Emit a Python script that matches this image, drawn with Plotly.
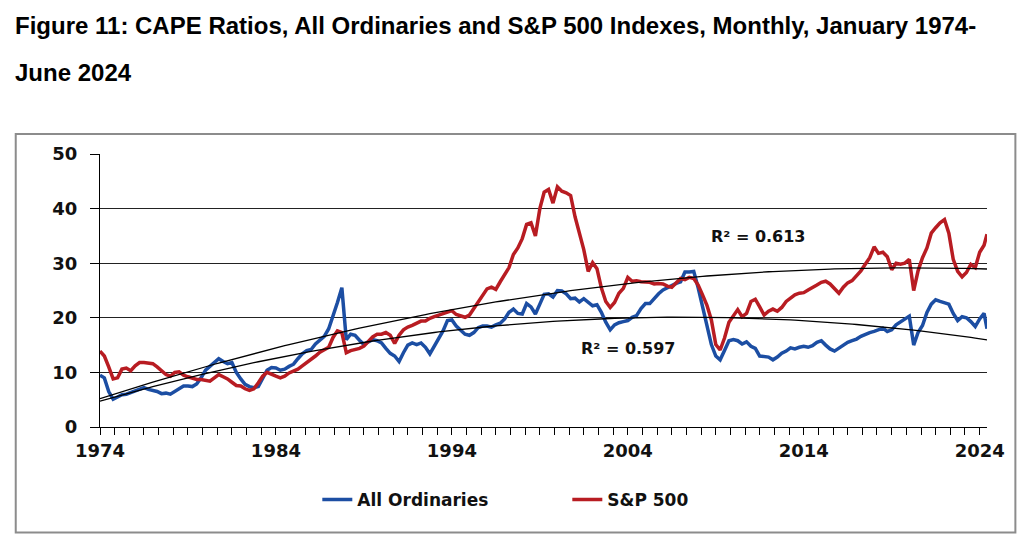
import numpy as np
import pandas as pd
import plotly.graph_objects as go

# quarterly readings (Jan, Apr, Jul, Oct), last value is June 2024
sp500 = [
    13.9, 13.0, 11.0, 8.8,    # 1974
    9.0, 10.6, 10.8, 10.3,    # 1975
    11.2, 11.8, 11.8, 11.7,   # 1976
    11.6, 11.0, 10.3, 9.6,    # 1977
    9.3, 10.0, 10.1, 9.5,     # 1978
    9.2, 9.0, 8.7, 8.7,       # 1979
    8.5, 8.4, 9.0, 9.6,       # 1980
    9.2, 8.8, 8.2, 7.6,       # 1981
    7.5, 7.0, 6.7, 7.0,       # 1982
    8.1, 9.3, 10.0, 9.6,      # 1983
    9.3, 9.0, 9.3, 9.9,       # 1984
    10.3, 10.6, 11.2, 11.8,   # 1985
    12.3, 13.0, 13.7, 14.2,   # 1986
    14.6, 16.4, 17.6, 17.3,   # 1987
    13.6, 14.0, 14.2, 14.4,   # 1988
    14.8, 15.6, 16.5, 17.0,   # 1989
    17.0, 17.3, 16.8, 15.3,   # 1990
    16.8, 17.8, 18.3, 18.6,   # 1991
    19.0, 19.4, 19.4, 19.9,   # 1992
    20.2, 20.5, 20.8, 21.1,   # 1993
    21.3, 20.6, 20.3, 20.1,   # 1994
    20.5, 21.7, 23.0, 24.3,   # 1995
    25.3, 25.6, 25.2, 26.6,   # 1996
    28.0, 29.2, 31.6, 32.8,   # 1997
    34.5, 37.1, 37.4, 35.0,   # 1998
    40.0, 43.0, 43.5, 41.0,   # 1999
    44.0, 43.2, 42.9, 42.4,   # 2000
    38.5, 35.5, 32.5, 28.5,   # 2001
    30.1, 29.0, 25.5, 23.0,   # 2002
    21.9, 22.8, 24.5, 25.4,   # 2003
    27.4, 26.7, 26.8, 26.6,   # 2004
    26.5, 26.5, 26.2, 26.3,   # 2005
    26.2, 25.8, 25.6, 26.5,   # 2006
    27.2, 27.0, 27.4, 27.2,   # 2007
    26.0, 24.2, 22.3, 19.6,   # 2008
    15.1, 14.1, 16.3, 19.2,   # 2009
    20.3, 21.5, 20.2, 20.8,   # 2010
    23.0, 23.4, 22.0, 20.5,   # 2011
    21.2, 21.6, 21.2, 21.9,   # 2012
    23.0, 23.6, 24.2, 24.5,   # 2013
    24.6, 25.1, 25.5, 26.0,   # 2014
    26.5, 26.7, 26.2, 25.4,   # 2015
    24.5, 25.6, 26.4, 26.8,   # 2016
    27.7, 28.6, 29.8, 31.0,   # 2017
    33.0, 31.8, 32.0, 31.2,   # 2018
    28.8, 30.0, 29.8, 30.0,   # 2019
    30.7, 25.0, 28.6, 31.0,   # 2020
    32.8, 35.5, 36.5, 37.4,   # 2021
    38.0, 35.5, 30.7, 28.5,   # 2022
    27.5, 28.3, 29.8, 29.2,   # 2023
    32.0, 33.3, 35.3,         # 2024
]

all_ords = [
    9.5, 9.0, 6.5, 5.1,       # 1974
    5.5, 5.9, 6.0, 6.3,       # 1975
    6.7, 6.9, 7.2, 6.9,       # 1976
    6.7, 6.5, 6.1, 6.2,       # 1977
    6.0, 6.5, 7.1, 7.5,       # 1978
    7.5, 7.4, 7.9, 9.0,       # 1979
    10.4, 11.1, 11.8, 12.5,   # 1980
    12.0, 11.6, 11.8, 10.0,   # 1981
    8.8, 7.8, 7.4, 7.2,       # 1982
    7.4, 8.8, 10.4, 10.9,     # 1983
    10.8, 10.4, 10.6, 11.1,   # 1984
    11.5, 12.5, 13.4, 14.0,   # 1985
    14.2, 15.2, 15.8, 16.6,   # 1986
    18.0, 20.2, 22.8, 25.5,   # 1987
    16.0, 17.0, 16.8, 15.9,   # 1988
    15.1, 15.6, 16.0, 15.8,   # 1989
    15.4, 14.4, 13.5, 13.0,   # 1990
    12.0, 13.6, 15.0, 15.4,   # 1991
    15.1, 15.4, 14.6, 13.4,   # 1992
    14.8, 16.2, 17.6, 19.5,   # 1993
    19.6, 18.5, 17.8, 17.0,   # 1994
    16.8, 17.3, 18.2, 18.5,   # 1995
    18.5, 18.3, 18.7, 19.0,   # 1996
    19.8, 21.0, 21.6, 20.8,   # 1997
    20.7, 22.6, 22.0, 20.7,   # 1998
    22.5, 24.3, 24.4, 23.8,   # 1999
    25.0, 24.9, 24.4, 23.5,   # 2000
    23.6, 22.9, 23.5, 22.8,   # 2001
    22.2, 22.4, 21.0, 19.2,   # 2002
    17.8, 18.7, 19.1, 19.3,   # 2003
    19.5, 20.1, 20.4, 21.7,   # 2004
    22.6, 22.6, 23.6, 24.4,   # 2005
    25.1, 25.5, 26.0, 26.3,   # 2006
    26.6, 28.4, 28.4, 28.5,   # 2007
    25.5, 22.0, 19.0, 15.1,   # 2008
    13.0, 12.3, 14.0, 15.8,   # 2009
    16.0, 15.8, 15.2, 15.6,   # 2010
    14.8, 14.4, 13.0, 12.9,   # 2011
    12.8, 12.3, 12.8, 13.5,   # 2012
    13.9, 14.5, 14.3, 14.6,   # 2013
    14.8, 14.6, 14.9, 15.5,   # 2014
    15.8, 15.0, 14.3, 13.9,   # 2015
    14.5, 14.9, 15.5, 15.8,   # 2016
    16.1, 16.6, 17.0, 17.3,   # 2017
    17.5, 17.8, 18.1, 17.5,   # 2018
    17.8, 18.7, 19.2, 19.8,   # 2019
    20.3, 15.0, 17.3, 18.6,   # 2020
    21.0, 22.5, 23.3, 23.0,   # 2021
    22.8, 22.5, 20.8, 19.5,   # 2022
    20.2, 20.0, 19.3, 18.4,   # 2023
    19.8, 20.8, 18.0,         # 2024
]

dates = list(pd.date_range('1974-01-01', '2024-04-01', freq='QS')) + [pd.Timestamp('2024-06-01')]
dates = pd.DatetimeIndex(dates)

r2_labels = ['R² = 0.613', 'R² = 0.597']

# 2nd order polynomial trendlines, like the excel ones
t = dates.year + (dates.month - 1) / 12.0
sp_trend = np.polyval(np.polyfit(t, sp500, 2), t)
ao_trend = np.polyval(np.polyfit(t, all_ords, 2), t)

fig = go.Figure()

fig.add_trace(go.Scatter(x=dates, y=all_ords, mode='lines', name='All Ordinaries',
                         line=dict(color='#1c4ea3', width=3.5)))
fig.add_trace(go.Scatter(x=dates, y=sp500, mode='lines', name='S&P 500',
                         line=dict(color='#b81c22', width=3.5)))
fig.add_trace(go.Scatter(x=dates, y=sp_trend, mode='lines', showlegend=False,
                         line=dict(color='black', width=1.3)))
fig.add_trace(go.Scatter(x=dates, y=ao_trend, mode='lines', showlegend=False,
                         line=dict(color='black', width=1.3)))

r2_font = dict(family='DejaVu Sans', size=16, color='#111', weight='bold')
fig.add_annotation(text=r2_labels[0], x='2011-06-01', y=34.8, showarrow=False, font=r2_font)
fig.add_annotation(text=r2_labels[1], x='2004-01-15', y=14.3, showarrow=False, font=r2_font)

# title, two lines with wide spacing
title_font = dict(family='Liberation Sans Narrow, Arial Narrow, sans-serif', size=24, color='black')
fig.add_annotation(text='<b>Figure 11: CAPE Ratios, All Ordinaries and S&P 500 Indexes, Monthly, January 1974-</b>',
                   xref='paper', yref='paper', x=-0.098, y=1.4725, xanchor='left', yanchor='middle',
                   showarrow=False, font=title_font)
fig.add_annotation(text='<b>June 2024</b>',
                   xref='paper', yref='paper', x=-0.098, y=1.30, xanchor='left', yanchor='middle',
                   showarrow=False, font=title_font)

# gray frame around chart
fig.add_shape(type='rect', xref='paper', yref='paper', x0=-0.095, x1=1.032, y0=-0.386, y1=1.073,
              line=dict(color='#8c8c8c', width=2), layer='below')

tick_font = dict(family='DejaVu Sans', size=18, color='#111', weight='bold')

fig.update_xaxes(
    type='date', range=['1974-01-01', '2024-06-01'],
    tick0='1974-01-01', dtick='M120', tickformat='%Y',
    ticks='outside', ticklen=7, tickcolor='black', tickwidth=1,
    minor=dict(tick0='1974-01-01', dtick='M10', ticks='outside', ticklen=7, tickcolor='black', showgrid=False),
    showline=True, linecolor='black', linewidth=1, showgrid=False, zeroline=False,
    tickfont=tick_font,
)
fig.update_yaxes(
    range=[0, 50], dtick=10, tick0=0,
    ticks='outside', ticklen=9, tickcolor='black',
    showline=True, linecolor='black', linewidth=1,
    showgrid=True, gridcolor='#222', gridwidth=1, zeroline=False,
    ticklabelstandoff=9,
    tickfont=tick_font,
)

fig.update_layout(
    width=1030, height=541,
    margin=dict(l=92, r=51, t=146, b=122),
    paper_bgcolor='white', plot_bgcolor='white',
    legend=dict(orientation='h', x=0.245, y=-0.267, xanchor='left', yanchor='middle',
                font=dict(family='DejaVu Sans', size=17, color='#111', weight='bold'),
                entrywidth=205, entrywidthmode='pixels', tracegroupgap=0),
    showlegend=True,
)

fig.write_html('out.html')
